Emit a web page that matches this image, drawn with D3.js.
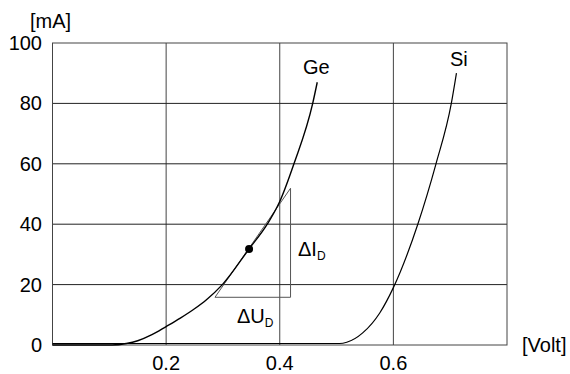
<!DOCTYPE html>
<html>
<head>
<meta charset="utf-8">
<script src="https://cdn.jsdelivr.net/npm/d3@7"></script>
<style>
  body { margin: 0; background: #fff; }
  text { font-family: "Liberation Sans", Arial, sans-serif; fill: #000; }
</style>
</head>
<body>
<script>
// Chart size
const w = 570;
const h = 374;

// Data
const xTicks = [0.2, 0.4, 0.6];
const yTicks = [0, 20, 40, 60, 80, 100];
const geCurve = [
  [0, 0], [0.105, 0], [0.13, 0.5], [0.15, 1.4], [0.175, 3.4], [0.2, 6.1],
  [0.225, 8.9], [0.25, 12], [0.271, 15], [0.299, 20], [0.346, 31.8],
  [0.378, 40], [0.4, 47.5], [0.425, 60], [0.458, 80], [0.466, 87]
];
const siCurve = [
  [0, 0.5], [0.505, 0.5], [0.518, 0.9], [0.546, 4], [0.576, 10.6], [0.6, 19],
  [0.643, 40], [0.675, 60], [0.702, 80], [0.711, 90]
];
const workPoint = [0.346, 31.8];
const triangle = [[0.286, 15.8], [0.419, 15.8], [0.419, 51.9]];

// Scales
const x = d3.scaleLinear().domain([0, 0.8]).range([52.5, 507]);
const y = d3.scaleLinear().domain([0, 100]).range([345, 43]);

const svg = d3
  .select('body')
  .append('svg')
  .attr('width', w)
  .attr('height', h);

// Grid lines
svg
  .selectAll('.vgrid')
  .data(xTicks)
  .enter()
  .append('line')
  .attr('x1', d => x(d))
  .attr('x2', d => x(d))
  .attr('y1', y(0))
  .attr('y2', y(100))
  .style('stroke', '#444')
  .style('stroke-width', 1);

svg
  .selectAll('.hgrid')
  .data(yTicks.slice(1, -1))
  .enter()
  .append('line')
  .attr('x1', x(0))
  .attr('x2', x(0.8))
  .attr('y1', d => y(d))
  .attr('y2', d => y(d))
  .style('stroke', '#222')
  .style('stroke-width', 1);

// Frame
svg
  .append('rect')
  .attr('x', x(0))
  .attr('y', y(100))
  .attr('width', x(0.8) - x(0))
  .attr('height', y(0) - y(100))
  .style('fill', 'none')
  .style('stroke', '#444')
  .style('stroke-width', 1);

// Axis labels
svg
  .selectAll('.ylab')
  .data(yTicks)
  .enter()
  .append('text')
  .attr('x', 42)
  .attr('y', d => y(d) + 7)
  .attr('text-anchor', 'end')
  .style('font-size', '20px')
  .text(d => d);

svg
  .selectAll('.xlab')
  .data(xTicks)
  .enter()
  .append('text')
  .attr('x', d => x(d))
  .attr('y', 370)
  .attr('text-anchor', 'middle')
  .style('font-size', '20px')
  .text(d => d);

svg.append('text').attr('x', 30).attr('y', 28).style('font-size', '20px').text('[mA]');
svg.append('text').attr('x', 522).attr('y', 352).style('font-size', '20px').text('[Volt]');

// Tangent triangle
svg
  .append('path')
  .attr('d', d3.line().x(d => x(d[0])).y(d => y(d[1]))(triangle) + 'Z')
  .style('fill', 'none')
  .style('stroke', '#555')
  .style('stroke-width', 1);

// Curves
const curveLine = d3
  .line()
  .x(d => x(d[0]))
  .y(d => y(d[1]))
  .curve(d3.curveMonotoneX);

svg
  .append('path')
  .attr('d', curveLine(geCurve))
  .style('fill', 'none')
  .style('stroke', '#000')
  .style('stroke-width', 1.4);

svg
  .append('path')
  .attr('d', curveLine(siCurve))
  .style('fill', 'none')
  .style('stroke', '#000')
  .style('stroke-width', 1.2);

// Working point
svg
  .append('circle')
  .attr('cx', x(workPoint[0]))
  .attr('cy', y(workPoint[1]))
  .attr('r', 4)
  .style('fill', '#000');

// Curve names
svg.append('text').attr('x', 303).attr('y', 74).style('font-size', '20px').text('Ge');
svg.append('text').attr('x', 450).attr('y', 66).style('font-size', '20px').text('Si');

// Delta labels
const dI = svg.append('text').attr('x', 298).attr('y', 256).style('font-size', '20px');
dI.append('tspan').text('ΔI');
dI.append('tspan').attr('dy', 4).style('font-size', '12px').text('D');

const dU = svg.append('text').attr('x', 237).attr('y', 323).style('font-size', '20px');
dU.append('tspan').text('ΔU');
dU.append('tspan').attr('dy', 4).style('font-size', '12px').text('D');
</script>
</body>
</html>
